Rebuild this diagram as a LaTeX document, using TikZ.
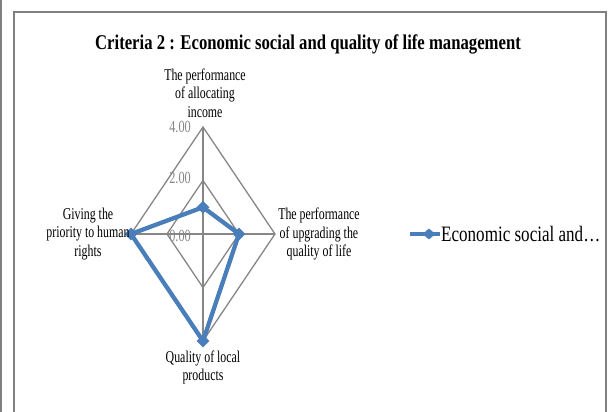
\documentclass[tikz,border=0pt]{standalone}
\usepackage{fontspec}
\setmainfont{Liberation Serif}[FakeStretch=0.72]
\newfontfamily\titlefont{Liberation Serif}[FakeStretch=0.795]
\newfontfamily\legendfont{Liberation Serif}[FakeStretch=0.775]
\usetikzlibrary{shapes.geometric}
\definecolor{gridgray}{RGB}{134,134,134}
\definecolor{framegray}{RGB}{128,128,128}
\definecolor{seriesblue}{RGB}{74,126,187}
\begin{document}
\begin{tikzpicture}[x=1pt, y=1pt,
    gridline/.style={draw=gridgray, line width=1.3pt},
    tick/.style={text=gridgray, anchor=east, inner sep=0pt,
        font=\fontsize{17}{17}\selectfont},
    axislabel/.style={align=center, inner sep=0pt,
        font=\fontsize{16.5}{18.5}\selectfont},
    series/.style={draw=seriesblue, line width=4.3pt, line join=round},
    datamark/.style={diamond, fill=seriesblue, inner sep=0pt, shape aspect=1,
        minimum width=13pt, minimum height=13pt}]
\useasboundingbox (0,0) rectangle (608,412);
\draw[framegray, line width=1.5pt] (0.75,0)--(0.75,412);
\draw[framegray, line width=2pt] (13.5,-5)|-(606,400)--(606,-5);

\node[font=\fontsize{21}{21}\titlefont\bfseries](title)at(308,368)
    {Criteria 2 : Economic social and quality of life management};

%radar grid
\begin{scope}[shift={(203,178)}, x=18pt, y=26.75pt]
\coordinate (c) at (0,0);
\foreach \r in {2,4}{
    \coordinate (n\r) at (0,\r);
    \coordinate (e\r) at (\r,0);
    \coordinate (s\r) at (0,-\r);
    \coordinate (w\r) at (-\r,0);
}
\draw[gridline] (n2)--(e2)--(s2)--(w2)--cycle;
\draw[gridline] (n4)--(e4)--(s4)--(w4)--cycle;
\draw[gridline] (n4)--(s4);
\draw[gridline] (w4)--(e4);
\node[tick](tick4)at(-0.67,4){4.00};
\node[tick](tick2)at(-0.67,2.1){2.00};
\node[tick](tick0)at(-0.67,-0.06){0.00};

%series
\coordinate (d_n) at (0,1);
\coordinate (d_e) at (2,0);
\coordinate (d_s) at (0,-4);
\coordinate (d_w) at (-4,0);
\draw[series] (d_n)--(d_e)--(d_s)--(d_w)--cycle;
\foreach \p in {d_n,d_e,d_s,d_w}
    \node[datamark](mark_\p)at(\p){};
\end{scope}

\node[axislabel](lab_top)at(205,319)
    {The performance\\of allocating\\income};
\node[axislabel](lab_right)at(319,178)
    {The performance\\of upgrading the\\quality of life};
\node[axislabel](lab_left)at(88,178)
    {Giving the\\priority to human\\rights};
\node[axislabel](lab_bottom)at(203,44.5)
    {Quality of local\\products};

%legend
\coordinate (leg_a) at (410,178);
\coordinate (leg_b) at (440,178);
\draw[series] (leg_a)--(leg_b);
\node[datamark, minimum height=11pt](leg_mark)at(429,178){};
\node[anchor=west, inner sep=0pt, font=\fontsize{22}{22}\legendfont]
    (leg_text)at(441,178){Economic social and\dots};
\end{tikzpicture}
\end{document}
